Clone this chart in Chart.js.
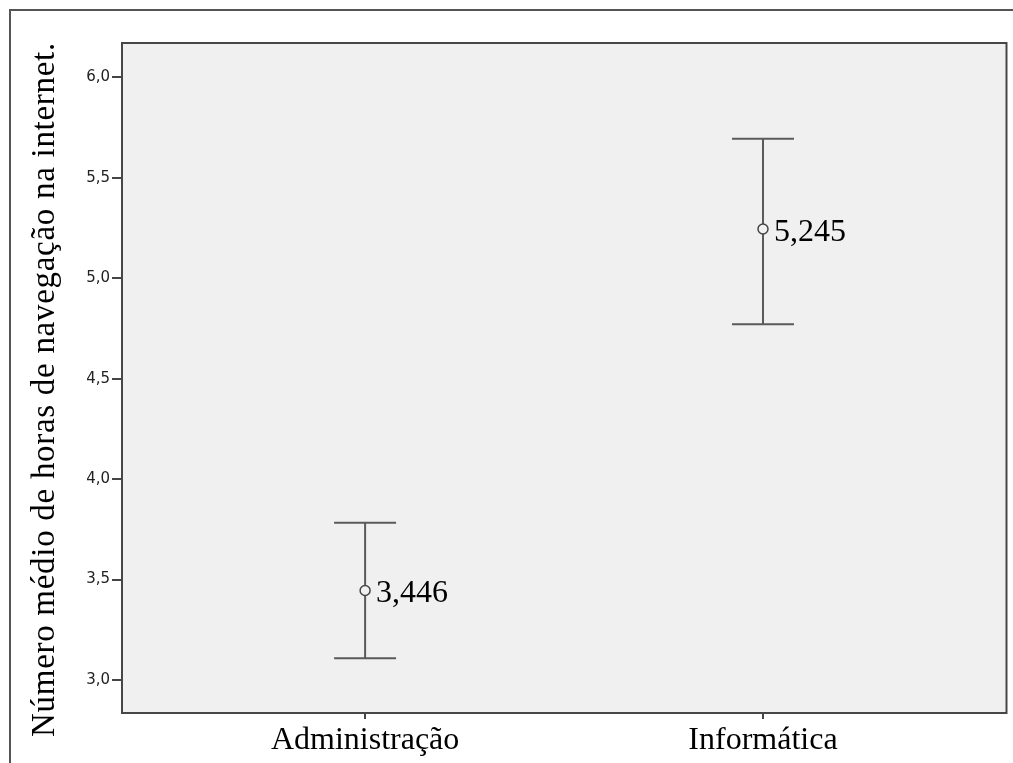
<!DOCTYPE html>
<html>
<head>
<meta charset="utf-8">
<script src="https://cdn.jsdelivr.net/npm/chart.js@4/dist/chart.umd.min.js"></script>
<style>
  html, body { margin: 0; padding: 0; background: #fff; }
  canvas { display: block; }
</style>
</head>
<body>
<canvas id="c" width="1013" height="763"></canvas>
<script>
const categories = ['Administração', 'Informática'];
const means = [3.446, 5.245];
const lowerCI = [3.108, 4.771];
const upperCI = [3.783, 5.694];
const meanLabels = ['3,446', '5,245'];
const yTickValues = [3.0, 3.5, 4.0, 4.5, 5.0, 5.5, 6.0];
const yTickLabels = ['3,0', '3,5', '4,0', '4,5', '5,0', '5,5', '6,0'];
const yTitle = 'Número médio de horas de navegação na internet.';

const SERIF = '"Liberation Serif", "Times New Roman", serif';

const errorBarPlugin = {
  id: 'errorBars',
  beforeDraw(chart) {
    const { ctx, chartArea: a } = chart;
    ctx.save();
    ctx.fillStyle = '#ffffff';
    ctx.fillRect(0, 0, chart.width, chart.height);
    ctx.fillStyle = '#555555';
    ctx.fillRect(9, 9, chart.width, 2);
    ctx.fillRect(9, 9, 2, chart.height);
    ctx.fillStyle = '#f0f0f0';
    ctx.fillRect(a.left, a.top, a.right - a.left, a.bottom - a.top);
    ctx.restore();
  },
  beforeDatasetsDraw(chart) {
    const { ctx } = chart;
    const xs = chart.scales.x, ys = chart.scales.y;
    ctx.save();
    ctx.strokeStyle = '#5a5a5a';
    ctx.lineWidth = 2;
    for (let i = 0; i < categories.length; i++) {
      const px = xs.getPixelForValue(i);
      const yl = ys.getPixelForValue(lowerCI[i]);
      const yu = ys.getPixelForValue(upperCI[i]);
      ctx.beginPath();
      ctx.moveTo(px, yl); ctx.lineTo(px, yu);
      ctx.moveTo(px - 31, yl); ctx.lineTo(px + 31, yl);
      ctx.moveTo(px - 31, yu); ctx.lineTo(px + 31, yu);
      ctx.stroke();
    }
    ctx.restore();
  },
  afterDatasetsDraw(chart) {
    const { ctx, chartArea: a } = chart;
    const xs = chart.scales.x, ys = chart.scales.y;
    ctx.save();
    ctx.fillStyle = '#000';
    ctx.font = '32px ' + SERIF;
    ctx.textAlign = 'left';
    ctx.textBaseline = 'alphabetic';
    for (let i = 0; i < categories.length; i++) {
      const px = xs.getPixelForValue(i);
      const py = ys.getPixelForValue(means[i]);
      ctx.fillText(meanLabels[i], px + 11, py + 12);
    }
    ctx.strokeStyle = '#474747';
    ctx.lineWidth = 2;
    ctx.strokeRect(a.left, a.top, a.right - a.left, a.bottom - a.top);
    ctx.restore();
  },
  afterDraw(chart) {
    // y-axis title (rotated), spread to the reference's length
    const { ctx } = chart;
    ctx.save();
    ctx.font = '33px ' + SERIF;
    ctx.fillStyle = '#000';
    const w = ctx.measureText(yTitle).width;
    const target = 694;
    const n = [...yTitle].length;
    if ('letterSpacing' in ctx) ctx.letterSpacing = ((target - w) / (n - 1)).toFixed(2) + 'px';
    ctx.translate(54, 737);
    ctx.rotate(-Math.PI / 2);
    ctx.textAlign = 'left';
    ctx.textBaseline = 'alphabetic';
    ctx.fillText(yTitle, 0, 0);
    ctx.restore();
  }
};

new Chart(document.getElementById('c'), {
  type: 'scatter',
  data: {
    datasets: [{
      data: means.map((m, i) => ({ x: i, y: m })),
      pointStyle: 'circle',
      pointRadius: 5,
      pointHoverRadius: 5,
      pointBorderWidth: 1.5,
      pointBorderColor: '#444444',
      pointBackgroundColor: '#f0f0f0'
    }]
  },
  options: {
    responsive: false,
    devicePixelRatio: 1,
    animation: false,
    events: [],
    layout: { padding: { left: 0, top: 43, right: 6, bottom: 0 } },
    plugins: { legend: { display: false }, tooltip: { enabled: false } },
    scales: {
      x: {
        type: 'linear',
        min: -0.611,
        max: 1.612,
        afterBuildTicks(scale) { scale.ticks = categories.map((c, i) => ({ value: i })); },
        afterFit(scale) { scale.height = 50; },
        ticks: {
          callback: (v) => categories[v],
          font: { family: SERIF, size: 32 },
          color: '#000',
          padding: 2,
          maxRotation: 0,
          autoSkip: false
        },
        grid: { display: true, drawOnChartArea: false, drawTicks: true, tickLength: 6, color: '#444', lineWidth: 2 },
        border: { display: false }
      },
      y: {
        type: 'linear',
        min: 2.836,
        max: 6.171,
        afterBuildTicks(scale) { scale.ticks = yTickValues.map(v => ({ value: v })); },
        afterFit(scale) { scale.width = 122; },
        ticks: {
          callback: (v) => yTickLabels[yTickValues.indexOf(v)],
          font: { family: '"DejaVu Sans", sans-serif', size: 15 },
          color: '#222',
          padding: 2
        },
        grid: { display: true, drawOnChartArea: false, drawTicks: true, tickLength: 10, color: '#444', lineWidth: 2 },
        border: { display: false }
      }
    }
  },
  plugins: [errorBarPlugin]
});
</script>
</body>
</html>
